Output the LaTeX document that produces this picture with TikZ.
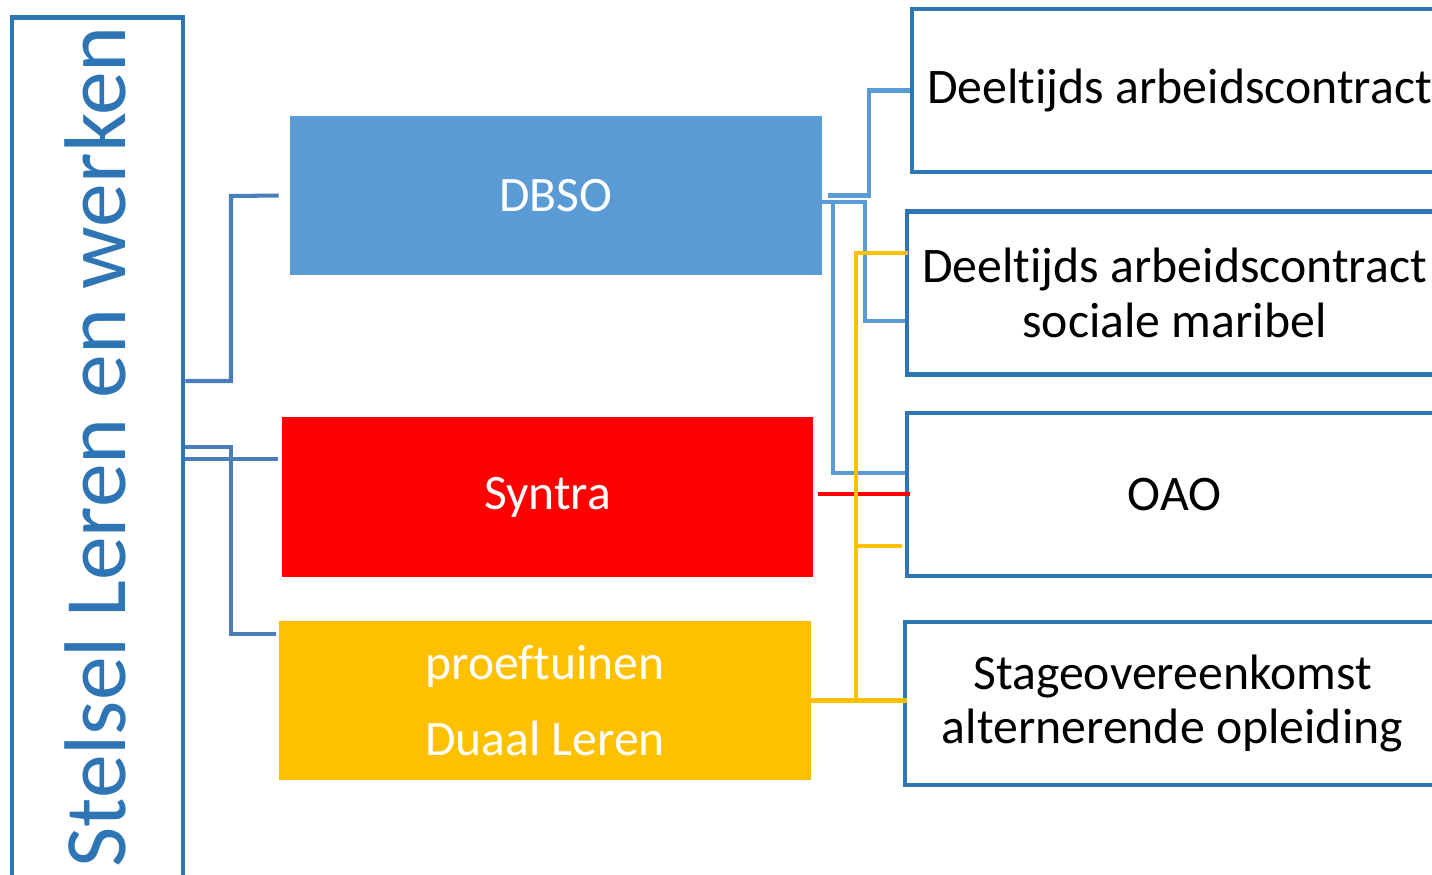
\documentclass[tikz,border=0pt]{standalone}
\usepackage{fontspec}
\setmainfont[Ligatures=NoCommon]{Carlito}
\definecolor{stelblue}{HTML}{2E75B6}
\definecolor{linkblue}{HTML}{4A7EBB}
\definecolor{dbsoblue}{HTML}{5B9BD5}
\definecolor{proefgold}{HTML}{FFC000}

\tikzset{
  colbox/.style={minimum width=5.31cm, minimum height=1.58cm, inner sep=0pt, text=white, align=center, font=\fontsize{14.1}{21.6}\selectfont},
  sidebox/.style={draw=stelblue, line width=1.3pt, fill=white, minimum width=5.35cm, minimum height=1.63cm, inner sep=0pt, align=center, font=\fontsize{14.15}{15.6}\selectfont},
  link/.style={line width=1.15pt}
}

\begin{document}
\begin{tikzpicture}[x=0.01cm,y=-0.01cm]
\clip (0,0) rectangle (1432,875);
\fill[white] (0,0) rectangle (1432,875);

% left column
\node [draw=stelblue, line width=1.3pt, minimum width=1.71cm, minimum height=8.64cm, inner sep=0pt] (stelsel) at (97.5,450) {};
\node [rotate=90, text=stelblue, font=\fontsize{24.9}{24.9}\selectfont] (title) at (95,447) {Stelsel Leren en werken};

% middle column
\node [colbox, fill=dbsoblue] (dbso) at (556,195.5) {DBSO};
\node [colbox, fill=red, minimum height=1.60cm] (syntra) at (547.5,497) {Syntra};
\node [colbox, fill=proefgold, minimum height=1.59cm] (proef) at (545,700.5) {proeftuinen\\Duaal Leren};

% links from left column
\draw [link, linkblue] (stelsel.east |- 0,381) -| (231,196) -- ([xshift=-0.11cm]dbso.west);
\draw [link, linkblue] (stelsel.east |- 0,447) -| (231,634) -- ([xshift=-0.03cm]proef.west |- 0,634);
\draw [link, linkblue] (stelsel.east |- 0,459) -- ([xshift=-0.03cm]syntra.west |- 0,459);

% right column
\node [sidebox] (r1) at (1179.5,90.5) {Deeltijds arbeidscontract};
\node [sidebox] (r2) at (1174.5,293) {Deeltijds arbeidscontract\\sociale maribel};
\node [sidebox] (r3) at (1174.5,494.5) {OAO};
\node [sidebox] (r4) at (1172.5,703.5) {Stageovereenkomst\\alternerende opleiding};

% links to right column
\draw [link, dbsoblue] ([xshift=0.06cm]dbso.east) -| (869,90.5) -- (r1.west);
\draw [link, dbsoblue] (dbso.east |- 0,202) -| (865,321) -- (r2.west |- 0,321);
\draw [link, dbsoblue] (dbso.east |- 0,202) -| (833,473) -- (r3.west |- 0,473);
\draw [link, red] ([xshift=0.04cm]syntra.east |- 0,494) -- ([xshift=0.05cm]r3.west |- 0,494);
\draw [link, proefgold] (proef.east) -- ([xshift=0.04cm]r4.west |- proef.east);
\draw [link, proefgold] (856,700) |- ([xshift=0.03cm]r2.west |- 0,253);
\draw [link, proefgold] (856,546) -- ([xshift=-0.03cm]r3.west |- 0,546);
\end{tikzpicture}
\end{document}
